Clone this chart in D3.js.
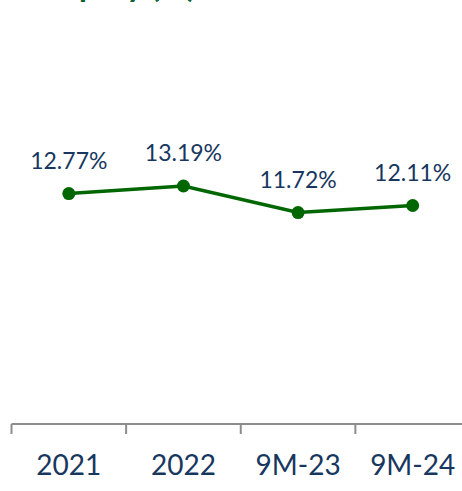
<!DOCTYPE html>
<html>
<head>
<meta charset="utf-8">
<script src="https://cdn.jsdelivr.net/npm/d3@7"></script>
<style>
  body { margin: 0; background: #fff; }
  svg { display: block; font-family: Lato, "Open Sans", sans-serif; }
</style>
</head>
<body>
<div id="chart"></div>
<script>
var categories = ["2021", "2022", "9M-23", "9M-24"];
var values = [12.77, 13.19, 11.72, 12.11];
var labels = ["12.77%", "13.19%", "11.72%", "12.11%"];
var title = "Return on Equity (%)";

var width = 462, height = 491;

var svg = d3.select("#chart").append("svg")
    .attr("width", width)
    .attr("height", height);

// band scale: ticks sit on band edges, points at band centres
var x = d3.scaleBand()
    .domain(categories)
    .range([11.5, 470]);

var y = d3.scaleLinear()
    .domain([0, 23.5])
    .range([424, 0]);

// title, cut at the top of the frame (as in the original crop)
svg.append("text")
    .attr("x", 196)
    .attr("y", -3)
    .attr("text-anchor", "end")
    .attr("fill", "#0a6233")
    .style("font-size", "33px")
    .style("font-weight", "bold")
    .text(title);

// x axis
var axis = svg.append("g")
    .attr("transform", "translate(0,424)");

axis.append("line")
    .attr("x1", x.range()[0])
    .attr("x2", width)
    .attr("stroke", "#8c8c8c")
    .attr("stroke-width", 2);

axis.selectAll(".tick")
    .data(categories)
    .enter().append("line")
    .attr("class", "tick")
    .attr("x1", function(d) { return x(d); })
    .attr("x2", function(d) { return x(d); })
    .attr("y1", 0)
    .attr("y2", 10)
    .attr("stroke", "#8c8c8c")
    .attr("stroke-width", 2);

axis.selectAll(".cat")
    .data(categories)
    .enter().append("text")
    .attr("class", "cat")
    .attr("x", function(d) { return x(d) + x.bandwidth() / 2; })
    .attr("y", 51)
    .attr("text-anchor", "middle")
    .attr("fill", "#17375e")
    .style("font-size", "28px")
    .text(function(d) { return d; });

var pts = categories.map(function(c, i) {
    return [x(c) + x.bandwidth() / 2, y(values[i])];
});

svg.append("path")
    .datum(pts)
    .attr("d", d3.line())
    .attr("fill", "none")
    .attr("stroke", "#006600")
    .attr("stroke-width", 3.5);

svg.selectAll(".dot")
    .data(pts)
    .enter().append("circle")
    .attr("class", "dot")
    .attr("cx", function(d) { return d[0]; })
    .attr("cy", function(d) { return d[1]; })
    .attr("r", 6.5)
    .attr("fill", "#006600");

svg.selectAll(".lbl")
    .data(pts)
    .enter().append("text")
    .attr("class", "lbl")
    .attr("x", function(d) { return d[0]; })
    .attr("y", function(d) { return d[1] - 25; })
    .attr("text-anchor", "middle")
    .attr("fill", "#17375e")
    .style("font-size", "23px")
    .text(function(d, i) { return labels[i]; });
</script>
</body>
</html>
